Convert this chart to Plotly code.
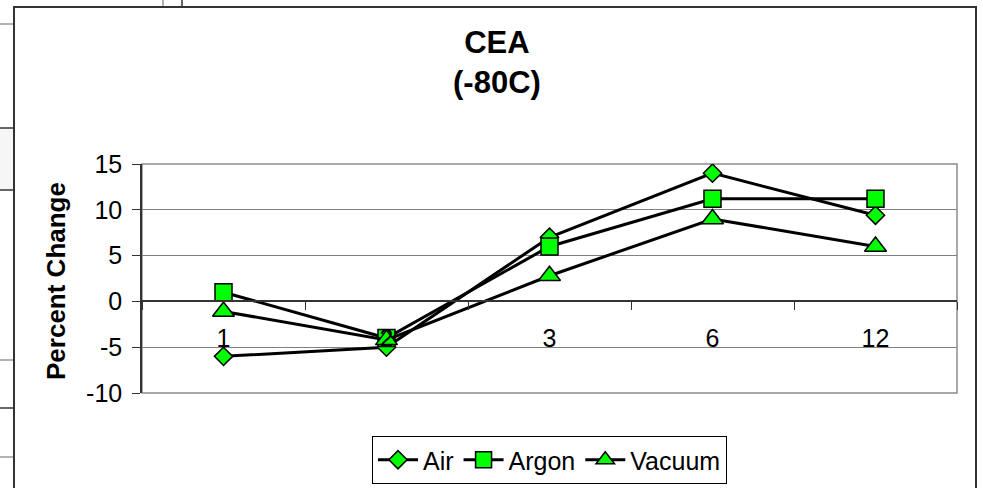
import plotly.graph_objects as go

# Months in storage and percent change per atmosphere
months = ["1", "2", "3", "6", "12"]
air = [-6, -5, 7, 14, 9.4]
argon = [1, -4, 6, 11.2, 11.2]
vacuum = [-1.1, -4.2, 2.8, 9, 6]

y_ticks = [-10, -5, 0, 5, 10, 15]

W, H = 983, 488
L, R, T, B = 142, 957, 164, 393


def px_x(x):
    return (x - L) / (R - L)


def px_y(y):
    return (B - y) / (B - T)


FONT = "Liberation Sans, Arial, sans-serif"
GREEN = "#00ff00"

fig = go.Figure()
series = [("Air", air, "diamond", 14), ("Argon", argon, "square", 17), ("Vacuum", vacuum, "triangle-up", 19)]
for name, vals, sym, size in series:
    fig.add_trace(go.Scatter(
        x=months, y=vals, name=name, mode="lines+markers",
        line=dict(color="black", width=3),
        marker=dict(symbol=sym, size=size, color=GREEN, line=dict(color="black", width=1.5)),
    ))

shapes = [
    # plot-area frame
    dict(type="rect", xref="paper", yref="paper", x0=0, x1=1, y0=0, y1=1,
         line=dict(color="#8c8c8c", width=1.5), layer="below"),
    # chart-area frame
    dict(type="rect", xref="paper", yref="paper", x0=px_x(14), x1=px_x(976), y0=px_y(520), y1=px_y(7),
         line=dict(color="#333333", width=2), layer="below"),
    # worksheet cells behind the chart
    dict(type="rect", xref="paper", yref="paper", x0=px_x(-5), x1=px_x(13), y0=px_y(190), y1=px_y(128),
         line=dict(width=0), fillcolor="#f6f6f6", layer="below"),
]
for yy, col in [(24, "#9a9a9a"), (128, "#333333"), (190, "#333333"), (360, "#9a9a9a"), (408, "#333333"), (457, "#9a9a9a")]:
    shapes.append(dict(type="line", xref="paper", yref="paper", x0=px_x(-5), x1=px_x(13),
                       y0=px_y(yy), y1=px_y(yy), line=dict(color=col, width=1.5)))
for xx, col in [(163, "#9a9a9a"), (182, "#333333")]:
    shapes.append(dict(type="line", xref="paper", yref="paper", x0=px_x(xx), x1=px_x(xx),
                       y0=px_y(6), y1=px_y(-5), line=dict(color=col, width=1.5)))

fig.update_layout(
    width=W, height=H,
    margin=dict(l=L, r=W - R, t=T, b=H - B, pad=0, autoexpand=False),
    paper_bgcolor="white", plot_bgcolor="white",
    font=dict(family=FONT, color="black", size=25),
    showlegend=True,
    legend=dict(orientation="h", x=0.5, xanchor="center", y=px_y(436), yanchor="top",
                bordercolor="black", borderwidth=1, bgcolor="white",
                font=dict(family=FONT, size=25), itemwidth=40, tracegroupgap=0,
                entrywidth=0),
    shapes=shapes,
    annotations=[
        dict(text="<b>CEA</b><br><b>(-80C)</b>", xref="paper", yref="paper",
             x=px_x(497), y=px_y(62), xanchor="center", yanchor="middle", showarrow=False,
             font=dict(family=FONT, size=31, color="black")),
        dict(text="<b>Percent Change</b>", xref="paper", yref="paper", textangle=-90,
             x=px_x(56), y=px_y(281), xanchor="center", yanchor="middle", showarrow=False,
             font=dict(family=FONT, size=26, color="black")),
    ],
)

fig.update_xaxes(
    type="category", range=[-0.5, 4.5], anchor="free", position=0.4,
    showline=True, linecolor="#333333", linewidth=1.5,
    ticks="outside", ticklen=8, tickcolor="#333333", tickson="boundaries",
    ticklabelstandoff=15, showgrid=False, zeroline=False,
    tickfont=dict(family=FONT, size=25, color="black"),
)
fig.update_yaxes(
    range=[-10, 15], tickvals=y_ticks, ticktext=[str(v) for v in y_ticks],
    showline=True, linecolor="#333333", linewidth=1.5,
    ticks="outside", ticklen=8, tickcolor="#333333",
    ticklabelstandoff=5,
    showgrid=True, gridcolor="#808080", gridwidth=1, zeroline=False,
    tickfont=dict(family=FONT, size=25, color="black"),
)

fig.write_html("out.html")
